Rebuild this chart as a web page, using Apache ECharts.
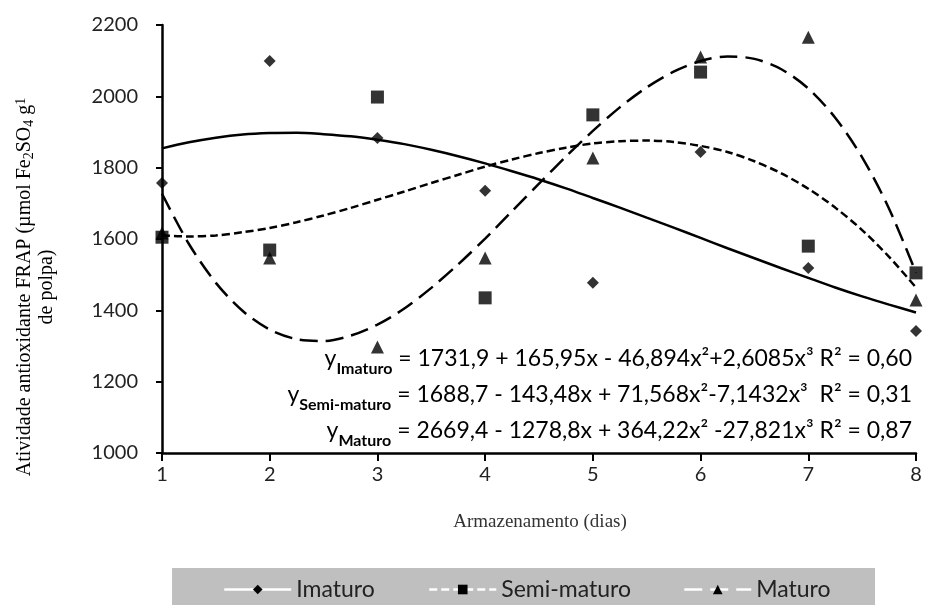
<!DOCTYPE html>
<html>
<head>
<meta charset="utf-8">
<script src="https://cdn.jsdelivr.net/npm/echarts@6/dist/echarts.min.js"></script>
<style>
  html, body { margin: 0; padding: 0; background: #fff; }
  #chart { width: 925px; height: 605px; }
</style>
</head>
<body>
<div id="chart"></div>
<script>
  // dias de armazenamento
  var days = [1, 2, 3, 4, 5, 6, 7, 8]
  var imaturo = [1757, 2099, 1883, 1735, 1477, 1844, 1519, 1342]
  var semiMaturo = [1605, 1569, 1998, 1435, 1948, 2068, 1580, 1505]
  var maturo = [1617, 1547, 1297, 1547, 1827, 2110, 2166, 1429]
  var curveX = [1, 1.25, 1.5, 1.75, 2, 2.25, 2.5, 2.75, 3, 3.25, 3.5, 3.75, 4, 4.25, 4.5, 4.75,
    5, 5.25, 5.5, 5.75, 6, 6.25, 6.5, 6.75, 7, 7.25, 7.5, 7.75, 8]
  var curveImaturo = [1854, 1871, 1884, 1893, 1897, 1898, 1894, 1888, 1878, 1866, 1850, 1832, 1812, 1790, 1767, 1742,
    1715, 1688, 1660, 1632, 1603, 1574, 1546, 1518, 1491, 1464, 1439, 1416, 1394]
  var curveSemi = [1610, 1607, 1610, 1619, 1631, 1647, 1666, 1687, 1710, 1733, 1757, 1780, 1803, 1823, 1841, 1856,
    1868, 1874, 1876, 1872, 1861, 1844, 1818, 1784, 1741, 1688, 1625, 1550, 1464]
  var curveMaturo = [1727, 1586, 1477, 1398, 1346, 1319, 1314, 1329, 1360, 1405, 1463, 1529, 1601, 1678, 1755, 1831,
    1903, 1969, 2025, 2069, 2099, 2112, 2105, 2076, 2022, 1940, 1829, 1685, 1505]
  var yTicks = [1000, 1200, 1400, 1600, 1800, 2000, 2200]

  function pairs (xs, ys) {
    return xs.map(function (x, i) { return [x, ys[i]] })
  }

  var chart = echarts.init(document.getElementById('chart'))
  var labelFont = 'Lato'

  var option = {
    backgroundColor: '#fff',
    animation: false,
    grid: { left: 162, right: 9, top: 25, bottom: 152 },
    xAxis: {
      type: 'value',
      min: 1,
      max: 8,
      interval: 1,
      axisLine: { lineStyle: { color: '#000', width: 2.5 } },
      axisTick: { show: true, length: 8, lineStyle: { color: '#000', width: 2 } },
      axisLabel: { margin: 12, fontFamily: labelFont, fontSize: 20, color: '#222' },
      splitLine: { show: false }
    },
    yAxis: {
      type: 'value',
      min: yTicks[0],
      max: yTicks[yTicks.length - 1],
      interval: 200,
      axisLine: { show: true, lineStyle: { color: '#000', width: 2.5 } },
      axisTick: { show: true, length: 6, lineStyle: { color: '#000', width: 2 } },
      axisLabel: {
        margin: 24,
        fontFamily: labelFont,
        fontSize: 20,
        color: '#222',
        formatter: function (v) { return String(v) }
      },
      splitLine: { show: false }
    },
    legend: [
      { data: ['Imaturo'], left: 223 },
      { data: ['Semi-maturo'], left: 428 },
      { data: ['Maturo'], left: 683 }
    ].map(function (l) {
      return Object.assign({
        top: 578,
        padding: 0,
        itemWidth: 67,
        itemHeight: 12,
        itemStyle: { color: '#000' },
        lineStyle: { color: '#fff', width: 2.5 },
        textStyle: { fontFamily: labelFont, fontSize: 23, color: '#222' }
      }, l)
    }),
    graphic: [
      {
        type: 'rect',
        z: -1,
        shape: { x: 172, y: 568, width: 703, height: 40 },
        style: { fill: '#bfbfbf' }
      },
      {
        type: 'text',
        x: 36,
        y: 287,
        rotation: Math.PI / 2,
        style: {
          text: '{a|Atividade antioxidante FRAP (µmol Fe}{sub|2}{a|SO}{sub|4}{a| g}{sup|1}\n{a|de polpa)}',
          align: 'center',
          verticalAlign: 'middle',
          rich: {
            a: { fontFamily: 'Liberation Serif', fontSize: 20, lineHeight: 22, color: '#333' },
            sub: { fontFamily: 'Liberation Serif', fontSize: 14, lineHeight: 12, verticalAlign: 'bottom', color: '#333' },
            sup: { fontFamily: 'Liberation Serif', fontSize: 14, lineHeight: 12, verticalAlign: 'top', color: '#333' }
          }
        }
      },
      {
        type: 'text',
        x: 540,
        y: 522,
        style: {
          text: 'Armazenamento (dias)',
          font: '19px "Liberation Serif"',
          fill: '#333',
          align: 'center',
          verticalAlign: 'middle'
        }
      },
      {
        type: 'text',
        x: 912,
        y: 395,
        style: {
          text: '{y|y}{s|Imaturo}{m| = 1731,9 + 165,95x - 46,894x²+2,6085x³ R² = 0,60}\n' +
                '{y|y}{s|Semi-maturo}{m| = 1688,7 - 143,48x + 71,568x²-7,1432x³  R² = 0,31}\n' +
                '{y|y}{s|Maturo}{m| = 2669,4 - 1278,8x + 364,22x² -27,821x³ R² = 0,87}',
          align: 'right',
          verticalAlign: 'middle',
          rich: {
            y: { fontFamily: labelFont, fontSize: 23, lineHeight: 36, color: '#222' },
            m: { fontFamily: labelFont, fontSize: 23, lineHeight: 36, color: '#222' },
            s: { fontFamily: labelFont, fontSize: 16, fontWeight: 'bold', lineHeight: 24, verticalAlign: 'bottom', color: '#222' }
          }
        }
      }
    ],
    series: [
      {
        name: 'Imaturo',
        type: 'line',
        smooth: 0.3,
        symbol: 'diamond',
        showSymbol: false,
        data: pairs(curveX, curveImaturo),
        lineStyle: { color: '#000', width: 2.5, type: 'solid' },
        itemStyle: { color: '#000' }
      },
      {
        name: 'Semi-maturo',
        type: 'line',
        smooth: 0.3,
        symbol: 'rect',
        showSymbol: false,
        data: pairs(curveX, curveSemi),
        lineStyle: { color: '#000', width: 2.5, type: [8, 4] },
        itemStyle: { color: '#000' }
      },
      {
        name: 'Maturo',
        type: 'line',
        smooth: 0.3,
        symbol: 'triangle',
        showSymbol: false,
        data: pairs(curveX, curveMaturo),
        lineStyle: { color: '#000', width: 2.5, type: [18, 8] },
        itemStyle: { color: '#000' }
      },
      {
        name: 'Imaturo',
        type: 'scatter',
        symbol: 'diamond',
        symbolSize: 12,
        clip: false,
        data: pairs(days, imaturo),
        itemStyle: { color: '#000' }
      },
      {
        name: 'Semi-maturo',
        type: 'scatter',
        symbol: 'rect',
        symbolSize: 13,
        clip: false,
        data: pairs(days, semiMaturo),
        itemStyle: { color: '#000' }
      },
      {
        name: 'Maturo',
        type: 'scatter',
        symbol: 'triangle',
        symbolSize: 13,
        clip: false,
        data: pairs(days, maturo),
        itemStyle: { color: '#000' }
      }
    ]
  }
  chart.setOption(option)
</script>
</body>
</html>
